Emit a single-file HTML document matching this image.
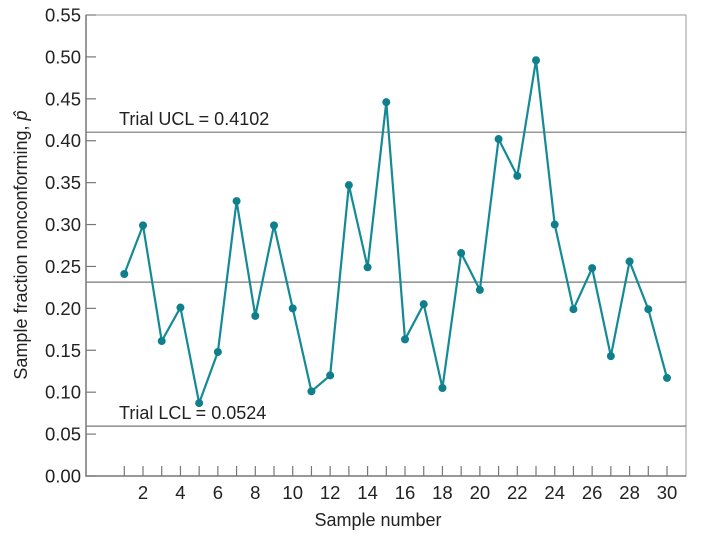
<!DOCTYPE html>
<html><head><meta charset="utf-8"><style>
body{margin:0;background:#fff;}
svg text{font-family:"Liberation Sans",sans-serif;fill:#222;}
</style></head><body>
<svg id="chart" width="701" height="536" xmlns="http://www.w3.org/2000/svg"></svg>
<script>
const samples=[1,2,3,4,5,6,7,8,9,10,11,12,13,14,15,16,17,18,19,20,21,22,23,24,25,26,27,28,29,30];
const fractions=[0.241,0.299,0.161,0.201,0.087,0.148,0.328,0.191,0.299,0.200,0.101,0.120,0.347,0.249,0.446,0.163,0.205,0.105,0.266,0.222,0.402,0.358,0.496,0.300,0.199,0.248,0.143,0.256,0.199,0.117];
const yTicks=[0,0.05,0.10,0.15,0.20,0.25,0.30,0.35,0.40,0.45,0.50,0.55];
const xTickLabels=[2,4,6,8,10,12,14,16,18,20,22,24,26,28,30];
const centerLine=0.2313, ucl=0.4102, lcl=0.0595;
const L=86,R=686,T=15,B=476;
const X=v=>124.3+(v-1)*18.714;
const Y=v=>B-(v/0.55)*(B-T);
const svg=document.getElementById('chart');
const NS='http://www.w3.org/2000/svg';
function mk(tag,attrs,parent){const e=document.createElementNS(NS,tag);for(const k in attrs)e.setAttribute(k,attrs[k]);(parent||svg).appendChild(e);return e;}
let e;
e=mk('rect',{x:L,y:T,width:R-L,height:B-T,fill:'none',stroke:'#999','stroke-width':1});


e=mk('path',{d:`M${L},${T}V${B}H${R}`,fill:'none',stroke:'#777','stroke-width':1.5});


yTicks.forEach(v=>{
  const t=mk('line',{x1:L,x2:L+10,y1:Y(v),y2:Y(v),stroke:'#777','stroke-width':1.2});
  
  
  const l=mk('text',{x:L-5,y:Y(v)+6.5,'text-anchor':'end','font-size':18.5});
  l.textContent=v.toFixed(2);
  
  
});
samples.forEach(s=>{
  const t=mk('line',{x1:X(s),x2:X(s),y1:B,y2:B-10,stroke:'#777','stroke-width':1.2});
  
  
});
xTickLabels.forEach(s=>{
  const l=mk('text',{x:X(s),y:B+23,'text-anchor':'middle','font-size':18.5});
  l.textContent=s;
  
  
});
[[ucl,'ucl-line'],[centerLine,'center-line'],[lcl,'lcl-line']].forEach(([v,n])=>{
  const l=mk('line',{x1:L,x2:R,y1:Y(v),y2:Y(v),stroke:'#777','stroke-width':1.2});
  
  
});
e=mk('text',{x:119,y:Y(ucl)-7,'font-size':18});e.textContent='Trial UCL = 0.4102';


e=mk('text',{x:119,y:Y(lcl)-7,'font-size':18});e.textContent='Trial LCL = 0.0524';


e=mk('polyline',{points:samples.map((s,i)=>X(s)+','+Y(fractions[i])).join(' '),fill:'none',stroke:'#138a96','stroke-width':2.2});


samples.forEach((s,i)=>{
  const c=mk('circle',{cx:X(s),cy:Y(fractions[i]),r:4,fill:'#0f7f8b'});
  
  
});
e=mk('text',{x:378,y:526,'text-anchor':'middle','font-size':18});e.textContent='Sample number';


e=mk('text',{x:0,y:0,'text-anchor':'middle','font-size':18,transform:'translate(27,245) rotate(-90)'});
e.innerHTML='Sample fraction nonconforming, <tspan font-style="italic">p̂</tspan>';


</script>
</body></html>
